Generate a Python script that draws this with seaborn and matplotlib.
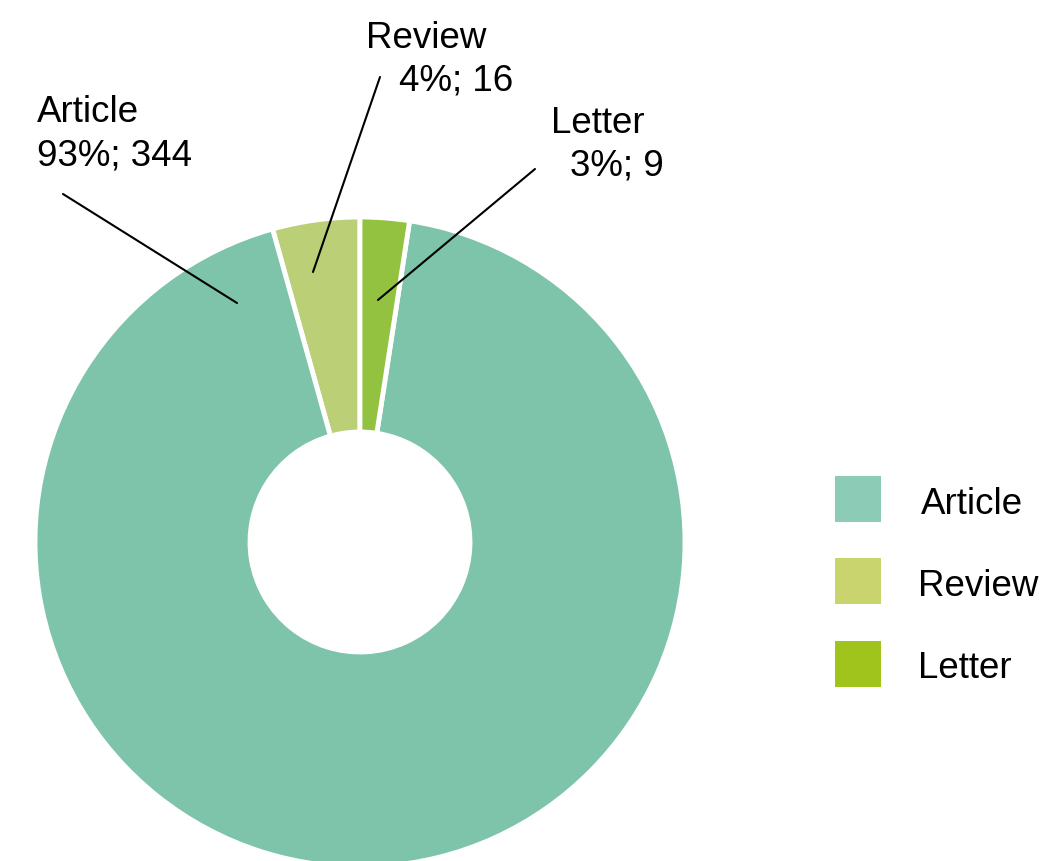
import numpy as np
import matplotlib
matplotlib.use("Agg")
import matplotlib.pyplot as plt
import seaborn as sns
from matplotlib.patches import Rectangle

# Data
categories = ["Article", "Review", "Letter"]
counts = [344, 16, 9]
percent_labels = ["93%", "4%", "3%"]

wedge_colors = {"Article": "#7dc4aa", "Review": "#bbcf77", "Letter": "#93c241"}
legend_colors = {"Article": "#8ccbb6", "Review": "#c9d46f", "Letter": "#a0c41c"}

sns.set_theme(style="white")
plt.rcParams["font.family"] = ["Liberation Sans", "DejaVu Sans"]

W, H = 1046, 862
fig = plt.figure(figsize=(W / 100, H / 100), dpi=100)
ax = fig.add_axes([0, 0, 1, 1])

# pie order: counterclockwise from top -> Review, Article, Letter
order = ["Review", "Article", "Letter"]
vals = [counts[categories.index(c)] for c in order]
cx, cy, r_out, r_in = 360, H - 543, 325, 110
ax.pie(
    vals,
    colors=[wedge_colors[c] for c in order],
    startangle=90,
    counterclock=True,
    center=(cx, cy),
    radius=r_out,
    wedgeprops=dict(width=r_out - r_in, edgecolor="white", linewidth=3.5),
    frame=True,
)
ax.set_xlim(0, W)
ax.set_ylim(0, H)
ax.set_aspect("equal")
ax.axis("off")

fs = 26.5

# labels with leader lines (pixel positions, y from top)
label_pos = {
    "Article": [(37, 122), (37, 166)],
    "Review": [(366, 48), (399, 90)],
    "Letter": [(551, 133), (570, 176)],
}
leaders = {
    "Article": [(63, 195), (237, 304)],
    "Review": [(380, 78), (313, 273)],
    "Letter": [(535, 170), (378, 301)],
}
for i, cat in enumerate(categories):
    (x1, y1), (x2, y2) = label_pos[cat]
    ax.text(x1, H - y1, cat, fontsize=fs, color="black", va="baseline", ha="left")
    ax.text(x2, H - y2, f"{percent_labels[i]}; {counts[i]}", fontsize=fs,
            color="black", va="baseline", ha="left")
    (lx1, ly1), (lx2, ly2) = leaders[cat]
    ax.plot([lx1, lx2], [H - ly1, H - ly2], color="black", linewidth=1.5)

# legend
leg_tops = [477, 559, 642]
leg_text_x = [921, 918, 918]
for i, cat in enumerate(categories):
    ax.add_patch(Rectangle((835, H - leg_tops[i] - 46), 46, 46,
                           facecolor=legend_colors[cat], edgecolor="none"))
    ax.text(leg_text_x[i], H - leg_tops[i] - 23, cat, fontsize=fs,
            color="black", va="center_baseline", ha="left")

fig.savefig("out.png", dpi=100)
